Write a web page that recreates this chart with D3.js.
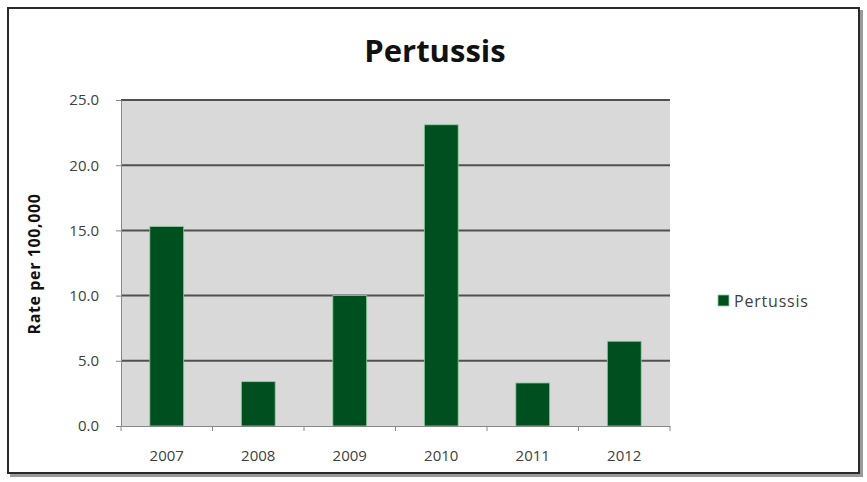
<!DOCTYPE html>
<html><head><meta charset="utf-8">
<script src="https://cdn.jsdelivr.net/npm/d3@7"></script>
<style>body{margin:0;background:#fff}svg{display:block}</style>
</head><body>
<script>
const categories = ["2007","2008","2009","2010","2011","2012"];
const values = [15.3, 3.4, 10.0, 23.1, 3.3, 6.5];
const yTicks = [0, 5, 10, 15, 20, 25];
const seriesName = "Pertussis";
const title = "Pertussis";
const yLabel = "Rate per 100,000";

const W = 867, H = 482;
const m = {left:121, right:197, top:100, bottom:56};
const svg = d3.select("body").append("svg").attr("width", W).attr("height", H);
const font = "'Open Sans', Lato, sans-serif";

// outer frame with shadow
svg.append("rect").attr("x",10).attr("y",10).attr("width",853).attr("height",467).attr("fill","#9a9a9a");
svg.append("rect").attr("x",8).attr("y",8).attr("width",851).attr("height",465)
  .attr("fill","#fff").attr("stroke","#2a2a2a").attr("stroke-width",2);

const x = d3.scaleBand().domain(categories).range([m.left, W - m.right]).paddingInner(0.63).paddingOuter(0.315);
const y = d3.scaleLinear().domain([0, 25]).range([H - m.bottom, m.top]);

svg.append("rect").attr("x", m.left).attr("y", m.top).attr("width", W - m.right - m.left)
  .attr("height", H - m.bottom - m.top).attr("fill", "#d9d9d9");

// gridlines
svg.append("g").selectAll("line").data(yTicks.filter(d => d > 0)).join("line")
  .attr("x1", m.left).attr("x2", W - m.right)
  .attr("y1", d => y(d)).attr("y2", d => y(d))
  .attr("stroke", "#505050").attr("stroke-width", 2);

// bars
svg.append("g").selectAll("rect").data(values).join("rect")
  .attr("x", (d,i) => x(categories[i])).attr("width", x.bandwidth())
  .attr("y", d => y(d)).attr("height", d => y(0) - y(d))
  .attr("fill", "#004f1f").attr("stroke", "#8fd0a0").attr("stroke-width", 0.8);

// y axis
const yAxis = svg.append("g").attr("transform", `translate(${m.left},0)`)
  .call(d3.axisLeft(y).tickValues(yTicks).tickFormat(d3.format(".1f")).tickSize(5).tickPadding(17));
yAxis.select(".domain").attr("stroke", "#888");
yAxis.selectAll(".tick line").attr("stroke", "#888");
yAxis.selectAll("text").attr("font-family", font).attr("font-size", 15).attr("fill", "#404040");

// x axis
const xAxis = svg.append("g").attr("transform", `translate(0,${H - m.bottom})`)
  .call(d3.axisBottom(x).tickSize(0).tickPadding(24));
xAxis.select(".domain").attr("stroke", "#888");
xAxis.selectAll("text").attr("font-family", font).attr("font-size", 15).attr("fill", "#404040");
const step = x.step();
svg.append("g").selectAll("line").data(d3.range(categories.length + 1)).join("line")
  .attr("x1", i => m.left + i * step).attr("x2", i => m.left + i * step)
  .attr("y1", H - m.bottom).attr("y2", H - m.bottom + 5).attr("stroke", "#888");

// title
svg.append("text").attr("x", 435).attr("y", 62).attr("text-anchor", "middle")
  .attr("font-family", font).attr("font-weight", "bold").attr("font-size", 31).attr("fill", "#111").text(title);

// y label
svg.append("text").attr("transform", `translate(40,${264}) rotate(-90)`).attr("text-anchor", "middle")
  .attr("font-family", font).attr("font-weight", "bold").attr("font-size", 16).attr("letter-spacing", 0.6)
  .attr("fill", "#111").text(yLabel);

// legend
svg.append("rect").attr("x", 718).attr("y", 295).attr("width", 11).attr("height", 11).attr("fill", "#004f1f")
  .attr("stroke","#8fd0a0").attr("stroke-width",0.8);
svg.append("text").attr("x", 734).attr("y", 307).attr("font-family", font).attr("font-size", 16)
  .attr("letter-spacing", 0.8).attr("fill", "#404040").text(seriesName);
</script>
</body></html>
